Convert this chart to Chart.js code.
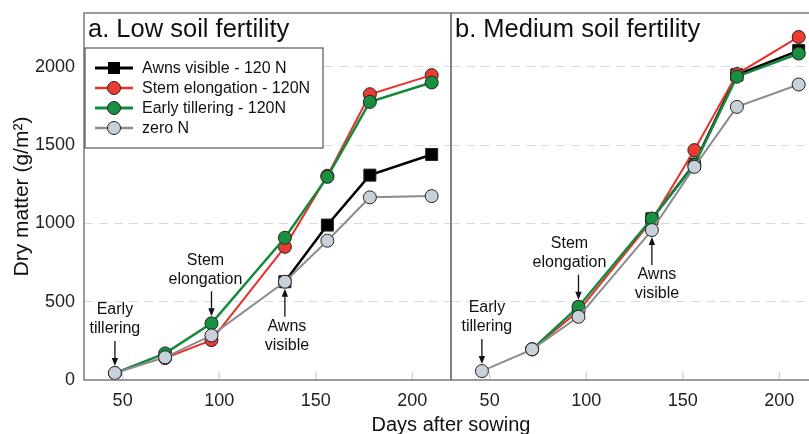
<!DOCTYPE html>
<html>
<head>
<meta charset="utf-8">
<script src="https://cdn.jsdelivr.net/npm/chart.js@4.4.0/dist/chart.umd.min.js"></script>
<style>
    html, body { margin: 0; padding: 0; background: #fff; overflow: hidden; width: 809px; height: 434px; }
    canvas { position: absolute; top: 0; }
    #graficoA { left: 0; }
    #graficoB { left: 367px; }
    #tituloX {
        position: absolute; left: 301px; width: 300px; top: 414px; text-align: center;
        font: 20px 'Liberation Sans', Arial, sans-serif; line-height: 20px; color: #111;
    }
</style>
</head>
<body>
<canvas id="graficoA" width="452" height="434"></canvas>
<canvas id="graficoB" width="452" height="434"></canvas>
<div id="tituloX">Days after sowing</div>
<script>
// dias de amostragem
var dias = [46, 72, 96, 134, 156, 178, 210];
var ticksDias = [50, 100, 150, 200];
var ticksMateria = [0, 500, 1000, 1500, 2000];

// a. Low soil fertility
var baixaAwns = [null, null, null, 628, 990, 1309, 1441];
var baixaStem = [null, 140, 255, 851, 1305, 1826, 1948];
var baixaEarly = [43, 170, 362, 909, 1298, 1777, 1901];
var baixaZero = [45, 145, 285, 628, 890, 1167, 1175];

// b. Medium soil fertility
var mediaAwns = [null, null, null, 1030, 1380, 1950, 2105];
var mediaStem = [null, 196, 440, 1020, 1469, 1955, 2192];
var mediaEarly = [null, 196, 468, 1032, 1375, 1938, 2086];
var mediaZero = [57, 196, 404, 958, 1362, 1745, 1888];

var nomesSeries = ['Awns visible - 120 N', 'Stem elongation - 120N', 'Early tillering - 120N', 'zero N'];

var fonte = "'Liberation Sans', Arial, sans-serif";
Chart.defaults.font.family = fonte;

var estilos = [
    { linha: '#000000', fundo: '#000000', forma: 'rect', raio: 8.5, largura: 2.5 },
    { linha: '#e8302a', fundo: '#ec3b33', forma: 'circle', raio: 6.5, largura: 2 },
    { linha: '#14893b', fundo: '#179140', forma: 'circle', raio: 6.5, largura: 2.5 },
    { linha: '#8c8c8c', fundo: '#c8d1d9', forma: 'circle', raio: 6.5, largura: 2 }
];

function montarDatasets(series) {
    // ordem invertida: zero N fica por cima no desenho
    var lista = [];
    for (var i = series.length - 1; i >= 0; i--) {
        var e = estilos[i];
        lista.push({
            label: nomesSeries[i],
            data: dias.map(function (d, k) { return { x: d, y: series[i][k] }; }),
            borderColor: e.linha,
            backgroundColor: e.fundo,
            borderWidth: e.largura,
            pointStyle: e.forma,
            pointRadius: e.raio,
            pointBorderColor: '#222',
            pointBorderWidth: 1,
            pointBackgroundColor: e.fundo,
            tension: 0,
            spanGaps: false,
            clip: 20
        });
    }
    return lista;
}

function desenharSeta(ctx, x, y1, y2) {
    // seta de y1 ate a ponta em y2
    var dir = y2 > y1 ? 1 : -1;
    ctx.strokeStyle = '#111';
    ctx.fillStyle = '#111';
    ctx.lineWidth = 1.3;
    ctx.beginPath();
    ctx.moveTo(x, y1);
    ctx.lineTo(x, y2 - dir * 6);
    ctx.stroke();
    ctx.beginPath();
    ctx.moveTo(x, y2);
    ctx.lineTo(x - 3.2, y2 - dir * 8);
    ctx.lineTo(x + 3.2, y2 - dir * 8);
    ctx.closePath();
    ctx.fill();
}

var pluginPainel = {
    id: 'painel',
    beforeDatasetsDraw: function (chart) {
        // tracinhos internos do eixo x
        var ctx = chart.ctx;
        var area = chart.chartArea;
        ctx.save();
        ctx.strokeStyle = '#cfd9e3';
        ctx.lineWidth = 1.5;
        ticksDias.forEach(function (v) {
            var x = chart.scales.x.getPixelForValue(v);
            ctx.beginPath();
            ctx.moveTo(x, area.bottom);
            ctx.lineTo(x, area.bottom - 8);
            ctx.stroke();
        });
        ctx.restore();
    },
    afterDraw: function (chart, args, opts) {
        var ctx = chart.ctx;
        var area = chart.chartArea;
        var sx = chart.scales.x, sy = chart.scales.y;
        ctx.save();

        // moldura
        ctx.strokeStyle = '#7a7a7a';
        ctx.lineWidth = 1.5;
        ctx.strokeRect(area.left, area.top, area.right - area.left, area.bottom - area.top);

        // titulo do painel
        ctx.fillStyle = '#111';
        ctx.font = '25.5px ' + fonte;
        ctx.textAlign = 'left';
        ctx.textBaseline = 'alphabetic';
        ctx.fillText(opts.titulo, area.left + 4, area.top + 24);

        // anotacoes com setas
        ctx.font = '16px ' + fonte;
        ctx.textAlign = 'center';
        ctx.textBaseline = 'middle';
        opts.anotacoes.forEach(function (a) {
            var px = sx.getPixelForValue(a.dia);
            var py = sy.getPixelForValue(a.valor);
            if (a.dir === 'baixo') {
                var ponta = py - 7;
                var topo = ponta - 25;
                desenharSeta(ctx, px, topo, ponta);
                ctx.fillStyle = '#111';
                ctx.fillText(a.linhas[0], px + a.dx, topo - 12 - 19);
                ctx.fillText(a.linhas[1], px + a.dx, topo - 12);
            } else {
                var pontaC = py + 7;
                var base = pontaC + 28;
                desenharSeta(ctx, px, base, pontaC);
                ctx.fillStyle = '#111';
                ctx.fillText(a.linhas[0], px + a.dx, base + 10);
                ctx.fillText(a.linhas[1], px + a.dx, base + 10 + 19);
            }
        });

        // legenda
        if (opts.legenda) {
            var lx = area.left + 1, ly = area.top + 35;
            ctx.fillStyle = '#fff';
            ctx.fillRect(lx, ly, 238, 100);
            ctx.strokeStyle = '#555';
            ctx.lineWidth = 1.2;
            ctx.strokeRect(lx, ly, 238, 100);
            ctx.textAlign = 'left';
            ctx.font = '16px ' + fonte;
            nomesSeries.forEach(function (nome, i) {
                var e = estilos[i];
                var yy = ly + 20 + i * 20;
                ctx.strokeStyle = e.linha;
                ctx.lineWidth = e.largura + 0.5;
                ctx.beginPath();
                ctx.moveTo(lx + 10, yy);
                ctx.lineTo(lx + 48, yy);
                ctx.stroke();
                ctx.fillStyle = e.fundo;
                ctx.strokeStyle = '#222';
                ctx.lineWidth = 1;
                if (e.forma === 'rect') {
                    ctx.fillRect(lx + 23, yy - 6, 12, 12);
                } else {
                    ctx.beginPath();
                    ctx.arc(lx + 29, yy, 6.5, 0, Math.PI * 2);
                    ctx.fill();
                    ctx.stroke();
                }
                ctx.fillStyle = '#111';
                ctx.fillText(nome, lx + 57, yy + 1);
            });
        }
        ctx.restore();
    }
};

function semPadding(s) {
    s.paddingTop = 0;
    s.paddingBottom = 0;
    s.paddingLeft = 0;
    s.paddingRight = 0;
}

function plotarPainel(idCanvas, series, titulo, anotacoes, mostrarEixoY) {
    new Chart(document.getElementById(idCanvas), {
        type: 'line',
        data: { datasets: montarDatasets(series) },
        plugins: [pluginPainel],
        options: {
            responsive: false,
            animation: false,
            events: [],
            layout: { autoPadding: false, padding: { top: 13, right: 1, left: 0, bottom: 0 } },
            plugins: {
                legend: { display: false },
                tooltip: { enabled: false },
                painel: { titulo: titulo, anotacoes: anotacoes, legenda: mostrarEixoY }
            },
            scales: {
                x: {
                    type: 'linear',
                    min: 30,
                    max: 220,
                    afterBuildTicks: function (s) { s.ticks = ticksDias.map(function (v) { return { value: v }; }); },
                    afterFit: function (s) { s.height = 54; semPadding(s); },
                    grid: { display: false, drawTicks: false },
                    border: { display: false },
                    ticks: { padding: 10, color: '#222', font: { size: 18 }, maxRotation: 0 }
                },
                y: {
                    min: 0,
                    max: 2345,
                    afterBuildTicks: function (s) { s.ticks = ticksMateria.map(function (v) { return { value: v }; }); },
                    afterFit: function (s) { s.width = 84; semPadding(s); },
                    grid: {
                        drawTicks: false,
                        color: function (c) { return c.tick && c.tick.value === 0 ? 'rgba(0,0,0,0)' : '#d3dce6'; },
                        lineWidth: 1
                    },
                    border: { display: false, dash: [9, 6] },
                    ticks: {
                        display: mostrarEixoY, padding: 9, color: '#222', font: { size: 18 },
                        callback: function (v) { return String(v); }
                    },
                    title: {
                        display: mostrarEixoY,
                        text: 'Dry matter (g/m²)',
                        color: '#111',
                        font: { size: 21 },
                        padding: { top: 10, bottom: 0 }
                    }
                }
            }
        }
    });
}

window.onload = function () {
    plotarPainel('graficoA', [baixaAwns, baixaStem, baixaEarly, baixaZero], 'a. Low soil fertility', [
        { linhas: ['Early', 'tillering'], dia: 46, valor: 45, dir: 'baixo', dx: 0 },
        { linhas: ['Stem', 'elongation'], dia: 96, valor: 362, dir: 'baixo', dx: -6 },
        { linhas: ['Awns', 'visible'], dia: 134, valor: 628, dir: 'cima', dx: 2 }
    ], true);
    plotarPainel('graficoB', [mediaAwns, mediaStem, mediaEarly, mediaZero], 'b. Medium soil fertility', [
        { linhas: ['Early', 'tillering'], dia: 46, valor: 57, dir: 'baixo', dx: 5 },
        { linhas: ['Stem', 'elongation'], dia: 96, valor: 468, dir: 'baixo', dx: -9 },
        { linhas: ['Awns', 'visible'], dia: 134, valor: 958, dir: 'cima', dx: 5 }
    ], false);
};
</script>
</body>
</html>
